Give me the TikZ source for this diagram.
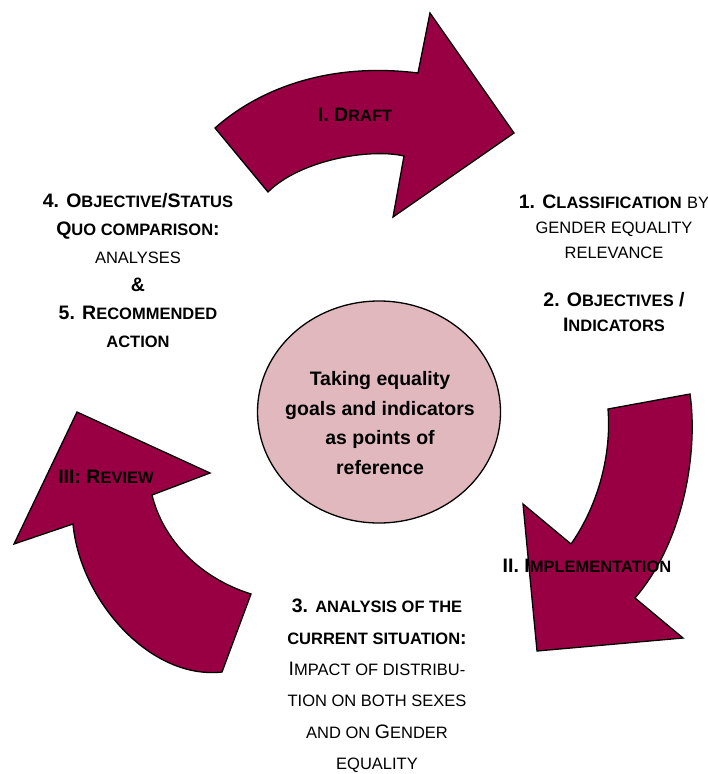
\documentclass[tikz,border=0pt]{standalone}
\usepackage{fontspec}
\setmainfont{Liberation Sans}
\usetikzlibrary{shapes.geometric}
\definecolor{arrowred}{RGB}{153,0,68}
\definecolor{circpink}{RGB}{224,184,190}
\newcommand\smc[1]{{\fontsize{16.5}{20}\selectfont #1}}
\begin{document}
\begin{tikzpicture}[x=1pt,y=-1pt,
  bigarrow/.style={fill=arrowred,draw=black,line width=1.3pt,line join=miter},
  lbl/.style={align=center,inner sep=0pt,text=black},
  hubshape/.style={ellipse,draw=black,fill=circpink,line width=1.3pt,inner sep=0pt,minimum width=243pt,minimum height=222pt}
]
\useasboundingbox (0,0) rectangle (708,774);
% arrows
\draw[bigarrow] (215,128) .. controls (260,88) and (330,62) .. (418,73) -- (430,13) -- (514,133) -- (393,217) -- (404,156) .. controls (370,148) and (300,160) .. (268,192) -- cycle;
\draw[bigarrow] (690,394) .. controls (698,450) and (685,540) .. (635,598) -- (683,638) -- (537,651) -- (523,504) -- (571,544) .. controls (595,510) and (612,460) .. (608,409) -- cycle;
\draw[bigarrow] (77,412) -- (210,473) -- (152,495) .. controls (163,540) and (200,578) .. (251,594) -- (222,672) .. controls (150,680) and (80,600) .. (73,524) -- (14,544) -- cycle;
% hub
\node[hubshape] (hub) at (379,412) {};
\node[lbl,font=\fontsize{19.5}{29.5}\selectfont\bfseries] (hubtext) at (380,423) {Taking equality\\goals and indicators\\as points of\\reference};
% arrow labels
\node[lbl,font=\fontsize{19.5}{25}\selectfont\bfseries] (draft) at (355,115) {I. D\smc{RAFT}};
\node[lbl,font=\fontsize{19.5}{25}\selectfont\bfseries] (impl) at (587,566) {II. I\smc{MPLEMENTATION}};
\node[lbl,font=\fontsize{19.5}{25}\selectfont\bfseries] (review) at (106,477) {III: R\smc{EVIEW}};
% text blocks
\node[lbl,font=\fontsize{19.5}{25}\selectfont] (right) at (614,263) {{\bfseries 1. C\smc{LASSIFICATION}} \smc{BY}\\ \smc{GENDER EQUALITY}\\ \smc{RELEVANCE}\\[23pt] {\bfseries 2. O\smc{BJECTIVES} /}\\ {\bfseries I\smc{NDICATORS}}};
\node[lbl,font=\fontsize{19.5}{28}\selectfont] (left) at (138,271) {{\bfseries 4. O\smc{BJECTIVE}/S\smc{TATUS}}\\ {\bfseries Q\smc{UO COMPARISON}:}\\ \smc{ANALYSES}\\ {\bfseries \&}\\ {\bfseries 5. R\smc{ECOMMENDED}}\\ {\bfseries\smc{ACTION}}};
\node[lbl,font=\fontsize{19.5}{31.4}\selectfont] (bottom) at (377,686) {{\bfseries 3. \smc{ANALYSIS OF THE}}\\ {\bfseries \smc{CURRENT SITUATION}:}\\ I\smc{MPACT OF DISTRIBU-}\\ \smc{TION ON BOTH SEXES}\\ \smc{AND ON }G\smc{ENDER}\\ \smc{EQUALITY}};
\end{tikzpicture}
\end{document}
